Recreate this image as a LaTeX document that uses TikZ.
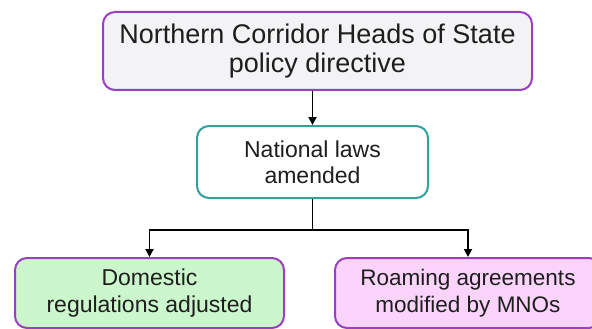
\documentclass[tikz,border=0pt]{standalone}
\usepackage{fontspec}
\setmainfont{Liberation Sans}
\usetikzlibrary{arrows.meta}
\definecolor{bpurple}{HTML}{9B3FC0}
\definecolor{bteal}{HTML}{33A0A0}
\definecolor{fgray}{HTML}{F3F3F5}
\definecolor{fgreen}{HTML}{CCF7CC}
\definecolor{fpink}{HTML}{FAD4FA}
\definecolor{txt}{HTML}{1E1E1E}
\tikzset{
  box/.style={draw, line width=2pt, rounded corners=12pt, align=center, text=txt, inner sep=0pt},
  conn/.style={line width=1.8pt, draw=black},
  arr/.style={conn, -{Triangle[length=8pt,width=8pt]}}
}
\begin{document}
\begin{tikzpicture}[x=1pt,y=-1pt]
\useasboundingbox (0,0) rectangle (592,329);
\clip (0,0) rectangle (592,329);
\node[box, draw=bpurple, fill=fgray, minimum width=429pt, minimum height=78pt,
  font=\fontsize{27}{29}\selectfont] (top) at (317.5,51)
  {Northern Corridor Heads of State\\policy directive};
\node[box, draw=bteal, fill=white, minimum width=231pt, minimum height=72pt,
  font=\fontsize{23}{26}\selectfont] (mid) at (312.5,162)
  {National laws\\amended};
\node[box, draw=bpurple, fill=fgreen, minimum width=269pt, minimum height=70pt,
  font=\fontsize{23}{27}\selectfont] (left) at (149.5,293)
  {Domestic\\regulations adjusted};
\node[box, draw=bpurple, fill=fpink, minimum width=266pt, minimum height=70pt,
  font=\fontsize{22.5}{27}\selectfont] (right) at (468,293)
  {Roaming agreements\\modified by MNOs};
\draw[arr] (mid.north |- top.south) -- (mid.north);
\coordinate (junc) at ([yshift=-31pt]mid.south);
\draw[conn] (mid.south) -- (junc);
\draw[arr] (junc) -| (left.north);
\draw[arr] (junc) -| (right.north);
\end{tikzpicture}
\end{document}
